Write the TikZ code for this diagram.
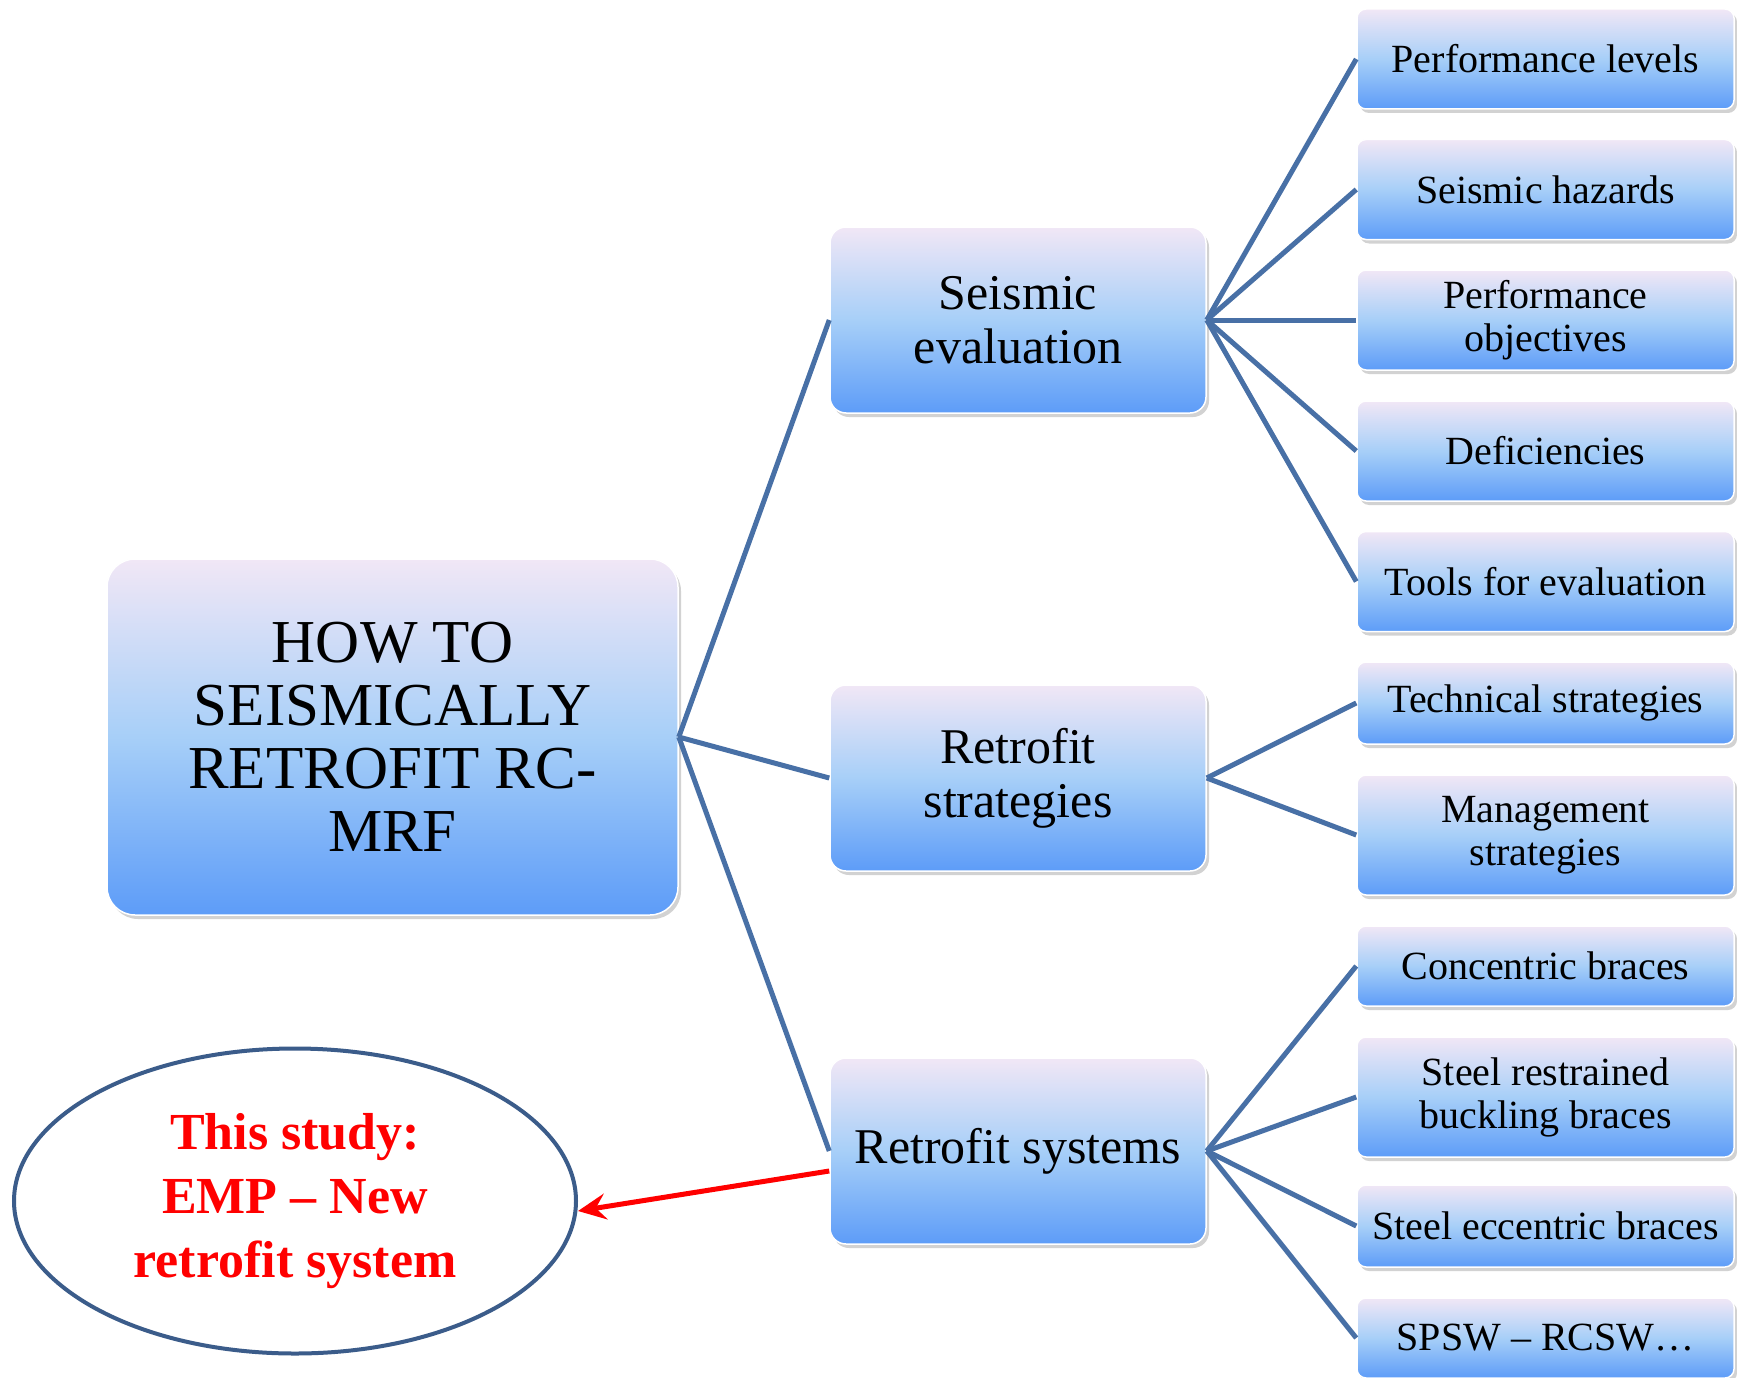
\documentclass[tikz,border=0pt]{standalone}
\usepackage{fontspec}
\setmainfont{Liberation Serif}
\usetikzlibrary{shapes.geometric,arrows.meta,shadows}
\definecolor{boxtop}{HTML}{F1E7F6}
\definecolor{boxmid}{HTML}{A7CFF8}
\definecolor{boxbot}{HTML}{5D9CF8}
\definecolor{linkc}{HTML}{4870A6}
\definecolor{ellc}{HTML}{3B5C8A}
\definecolor{redc}{HTML}{FF0000}
\tikzset{
  gbox/.style={rectangle, top color=boxtop, bottom color=boxbot, middle color=boxmid,
    draw=white, line width=1.5pt, align=center, text=black, inner sep=2pt,
    drop shadow={opacity=0.35, shadow xshift=3pt, shadow yshift=-4pt}},
  rootbox/.style={gbox, rounded corners=28pt, minimum width=571pt, minimum height=356pt,
    font=\fontsize{61}{63}\selectfont},
  midbox/.style={gbox, rounded corners=16pt, minimum width=376pt, minimum height=186pt,
    font=\fontsize{50}{54}\selectfont},
  leafbox/.style={gbox, rounded corners=9pt, minimum width=377pt,
    font=\fontsize{40}{43}\selectfont},
  link/.style={draw=linkc, line width=5pt},
}
\begin{document}
\begin{tikzpicture}[x=1pt,y=-1pt]
\useasboundingbox (0,0) rectangle (1737,1378);
\fill[white] (0,0) rectangle (1737,1378);

\node[rootbox] (root) at (392.5,737) {HOW TO\\SEISMICALLY\\RETROFIT RC-\\MRF};

\node[midbox] (m1) at (1018,320) {Seismic\\evaluation};
\node[midbox] (m2) at (1018,778) {Retrofit\\strategies};
\node[midbox] (m3) at (1018,1151) {Retrofit systems};

\node[leafbox, minimum height=100pt] (l1) at (1545.5,59) {Performance levels};
\node[leafbox, minimum height=100pt] (l2) at (1545.5,189.5) {Seismic hazards};
\node[leafbox, minimum height=100pt] (l3) at (1545.5,320) {Performance\\objectives};
\node[leafbox, minimum height=100pt] (l4) at (1545.5,451) {Deficiencies};
\node[leafbox, minimum height=100pt] (l5) at (1545.5,581.5) {Tools for evaluation};
\node[leafbox, minimum height=82pt] (l6) at (1545.5,703) {Technical strategies};
\node[leafbox, minimum height=120pt] (l7) at (1545.5,835) {Management\\strategies};
\node[leafbox, minimum height=80pt] (l8) at (1545.5,966) {Concentric braces};
\node[leafbox, minimum height=120pt] (l9) at (1545.5,1097) {Steel restrained\\buckling braces};
\node[leafbox, minimum height=82pt] (l10) at (1545.5,1226) {Steel eccentric braces};
\node[leafbox, minimum height=80pt] (l11) at (1545.5,1338) {SPSW – RCSW…};

\node[ellipse, draw=ellc, line width=4pt, fill=white, minimum width=562pt, minimum height=305pt,
  align=center, text=redc, font=\bfseries\fontsize{52}{64}\selectfont] (st) at (295,1201)
  {This study:\\EMP – New\\retrofit system};

\foreach \m in {m1,m2,m3}{\draw[link] (root.east) -- (\m.west);}
\foreach \l in {l1,l2,l3,l4,l5}{\draw[link] (m1.east) -- (\l.west);}
\foreach \l in {l6,l7}{\draw[link] (m2.east) -- (\l.west);}
\foreach \l in {l8,l9,l10,l11}{\draw[link] (m3.east) -- (\l.west);}

\coordinate (ar) at ([yshift=-20pt]m3.west);
\coordinate (ae) at ([yshift=-10pt]st.east);
\draw[redc, line width=5pt, -{Stealth[length=28pt,width=26pt,inset=10pt]}] (ar) -- (ae);
\end{tikzpicture}
\end{document}
